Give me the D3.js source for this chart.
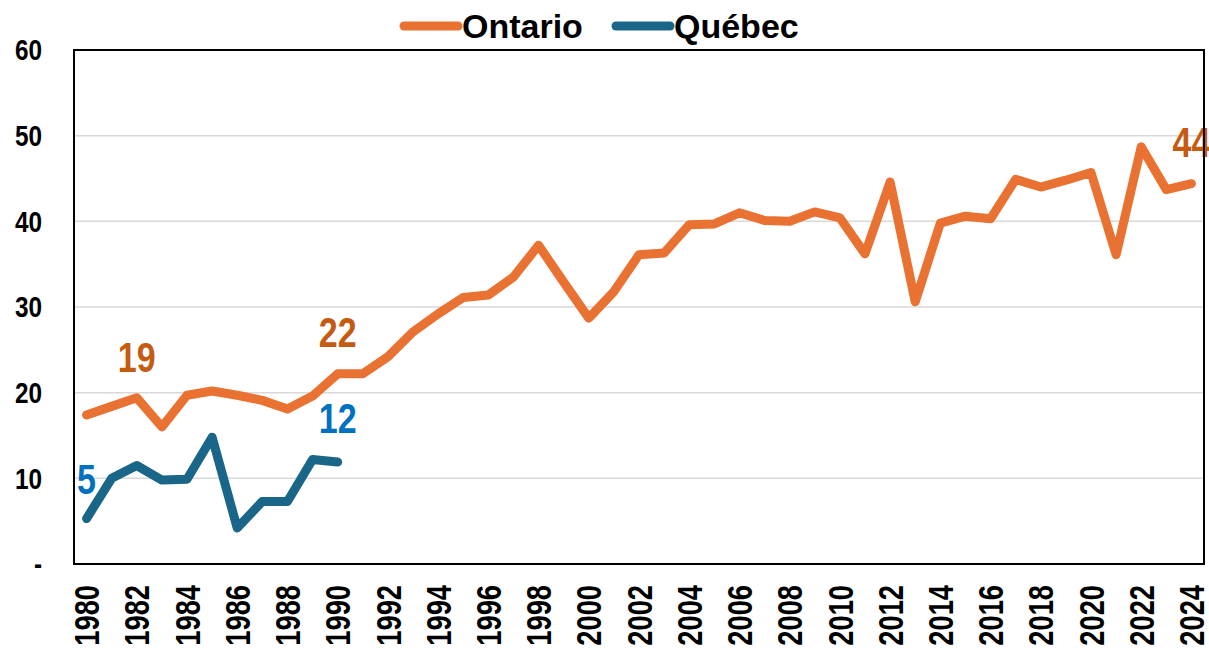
<!DOCTYPE html>
<meta charset="utf-8">
<style>
body { margin: 0; background: #fff; }
text { font-family: "Liberation Sans", Arial, sans-serif; font-weight: bold; }
.grid line { stroke: #d9d9d9; stroke-width: 1.5px; }
.series { fill: none; stroke-width: 9px; stroke-linejoin: round; stroke-linecap: round; }
</style>
<svg width="1209" height="655"></svg>
<script src="https://d3js.org/d3.v7.min.js"></script>
<script>

var years = d3.range(1980, 2025);

var ontario = [17.4, 18.4, 19.4, 16.0, 19.7, 20.2, 19.7, 19.1, 18.1, 19.6,
  22.2, 22.2, 24.2, 27.1, 29.2, 31.1, 31.4, 33.5, 37.2, 32.9,
  28.7, 31.8, 36.1, 36.3, 39.6, 39.7, 41.0, 40.1, 40.0, 41.1,
  40.4, 36.2, 44.6, 30.6, 39.8, 40.6, 40.3, 44.9, 44.0, 44.8,
  45.7, 36.1, 48.7, 43.7, 44.4];

var quebec = [5.3, 10.0, 11.5, 9.8, 9.9, 14.8, 4.2, 7.3, 7.3, 12.2, 11.9];

var yTicks = [0, 10, 20, 30, 40, 50, 60];

// point labels: [series, year, text]
var notes = [
  ["on", 1982, "19"],
  ["on", 1990, "22"],
  ["on", 2024, "44"],
  ["qc", 1980, "5"],
  ["qc", 1990, "12"]
];

var colors = { on: "#e97132", qc: "#1a6688" };
var noteColors = { on: "#c55a11", qc: "#0070c0" };

var svg = d3.select("svg"),
    margin = { top: 50, right: 5, bottom: 91, left: 74 },
    width = +svg.attr("width") - margin.left - margin.right,
    height = +svg.attr("height") - margin.top - margin.bottom;

var x = d3.scalePoint().domain(years).range([0, width]).padding(0.5);
var y = d3.scaleLinear().domain([0, 60]).range([height, 0]);

var g = svg.append("g").attr("transform", "translate(" + margin.left + "," + margin.top + ")");

g.append("g").attr("class", "grid")
  .selectAll("line").data(yTicks.slice(1, -1)).enter().append("line")
    .attr("x1", 0).attr("x2", width)
    .attr("y1", function(d) { return y(d); })
    .attr("y2", function(d) { return y(d); });

// y labels (narrowed)
g.append("g").selectAll("text").data(yTicks).enter().append("text")
    .attr("transform", function(d) { return "translate(-32," + y(d) + ") scale(0.84,1)"; })
    .attr("dy", "0.36em")
    .attr("text-anchor", "end")
    .style("font-size", "29px")
    .text(function(d) { return d === 0 ? "-" : d; });

// x labels
g.append("g").selectAll("text").data(years.filter(function(d) { return d % 2 === 0; }))
  .enter().append("text")
    .attr("transform", function(d) { return "translate(" + x(d) + "," + (height + 21) + ") rotate(-90) scale(0.78,1)"; })
    .attr("dy", "0.36em")
    .attr("text-anchor", "end")
    .style("font-size", "35px")
    .text(function(d) { return d; });

var line = d3.line()
    .x(function(d, i) { return x(years[i]); })
    .y(function(d) { return y(d); });

g.append("path").attr("class", "series").attr("stroke", colors.on).attr("d", line(ontario));
g.append("path").attr("class", "series").attr("stroke", colors.qc).attr("d", line(quebec));

// data labels
var offsets = { "on1982": [0, -41], "on1990": [0, -42], "on2024": [0, -42], "qc1980": [0, -40], "qc1990": [0, -44] };
g.append("g").selectAll("text").data(notes).enter().append("text")
    .attr("transform", function(d) {
      var v = d[0] === "on" ? ontario[d[1] - 1980] : quebec[d[1] - 1980];
      var o = offsets[d[0] + d[1]];
      return "translate(" + (x(d[1]) + o[0]) + "," + (y(v) + o[1]) + ") scale(0.81,1)";
    })
    .attr("dy", "0.36em")
    .attr("text-anchor", "middle")
    .attr("fill", function(d) { return noteColors[d[0]]; })
    .style("font-size", "42px")
    .text(function(d) { return d[2]; });

// frame
g.append("rect").attr("width", width).attr("height", height)
    .attr("fill", "none").attr("stroke", "#000").attr("stroke-width", 2);

// legend
var legend = [["Ontario", colors.on, 400], ["Québec", colors.qc, 612]];
var lg = svg.append("g").selectAll("g").data(legend).enter().append("g")
    .attr("transform", function(d) { return "translate(" + d[2] + ",26)"; });
lg.append("line").attr("x1", 4).attr("x2", 58)
    .attr("stroke", function(d) { return d[1]; })
    .attr("stroke-width", 9).attr("stroke-linecap", "round");
lg.append("text").attr("x", 62).attr("dy", "0.36em")
    .style("font-size", "34px")
    .text(function(d) { return d[0]; });

</script>
